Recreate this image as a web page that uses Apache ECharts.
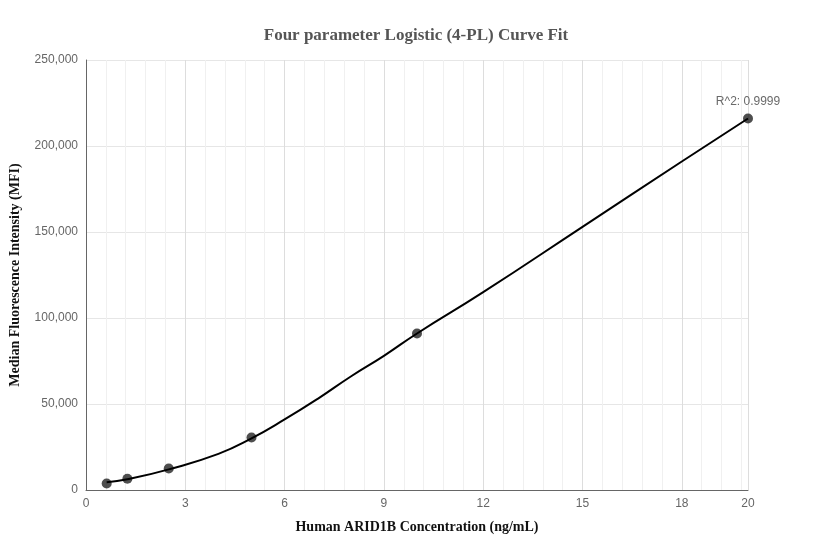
<!DOCTYPE html>
<html>
<head>
<meta charset="utf-8">
<script src="https://cdn.jsdelivr.net/npm/echarts@6/dist/echarts.min.js"></script>
<style>html,body{margin:0;padding:0;background:#fff}#c{width:832px;height:560px}</style>
</head>
<body>
<div id="c"></div>
<script>
// measured standards
var stdConc = [0.625, 1.25, 2.5, 5, 10, 20];
var stdMfi = [3800, 6500, 12500, 30500, 91000, 216000];
// fitted curve
var fitConc = [0.625, 1.25, 2.5, 4, 5, 6, 7, 8, 9, 10, 12, 15, 18, 20];
var fitMfi = [4500, 6200, 12000, 21000, 30000, 41000, 53000, 66000, 78000, 91000, 115000, 153000, 191000, 216000];
var xTicks = [0, 3, 6, 9, 12, 15, 18, 20];

var chart = echarts.init(document.getElementById('c'));
var axisGray = '#666';
chart.setOption({
    animation: false,
    title: {
        text: 'Four parameter Logistic (4-PL) Curve Fit',
        left: 'center', top: 22,
        textStyle: {fontFamily: 'Liberation Serif', fontSize: 17, fontWeight: 'bold', color: '#555'}
    },
    grid: {left: 83, right: 84, top: 60, bottom: 70},
    xAxis: {
        type: 'value', min: 0, max: 20, interval: 3,
        name: 'Human ARID1B Concentration (ng/mL)',
        nameLocation: 'middle', nameGap: 30,
        nameTextStyle: {fontFamily: 'Liberation Serif', fontSize: 14, fontWeight: 'bold', color: '#111'},
        axisLine: {lineStyle: {color: axisGray}},
        axisTick: {show: false},
        axisLabel: {color: '#666', fontSize: 12, showMaxLabel: true,
            customValues: xTicks},
        splitLine: {show: true, lineStyle: {color: '#ddd'}},
        minorTick: {show: false, splitNumber: 5},
        minorSplitLine: {show: true, lineStyle: {color: '#f0f0f0'}}
    },
    yAxis: {
        type: 'value', min: 0, max: 250000, interval: 50000,
        name: 'Median Fluorescence Intensity (MFI)',
        nameLocation: 'middle', nameGap: 64,
        nameTextStyle: {fontFamily: 'Liberation Serif', fontSize: 14, fontWeight: 'bold', color: '#111'},
        axisLine: {show: true, lineStyle: {color: axisGray}},
        axisTick: {show: false},
        axisLabel: {color: '#666', fontSize: 12, formatter: function (v) { return v.toLocaleString('en-US'); }},
        splitLine: {lineStyle: {color: '#e6e6e6'}}
    },
    series: [
        {
            type: 'line', smooth: true, symbol: 'none',
            data: fitConc.map(function (x, i) { return [x, fitMfi[i]]; }),
            lineStyle: {color: '#000', width: 2}
        },
        {
            type: 'scatter', symbolSize: 10,
            data: stdConc.map(function (x, i) { return [x, stdMfi[i]]; }),
            itemStyle: {color: '#222'},
            label: {
                show: true, position: 'top', distance: 6, color: '#444', fontSize: 12,
                formatter: function (p) { return p.dataIndex === stdConc.length - 1 ? 'R^2: 0.9999' : ''; }
            }
        }
    ]
});
</script>
</body>
</html>
